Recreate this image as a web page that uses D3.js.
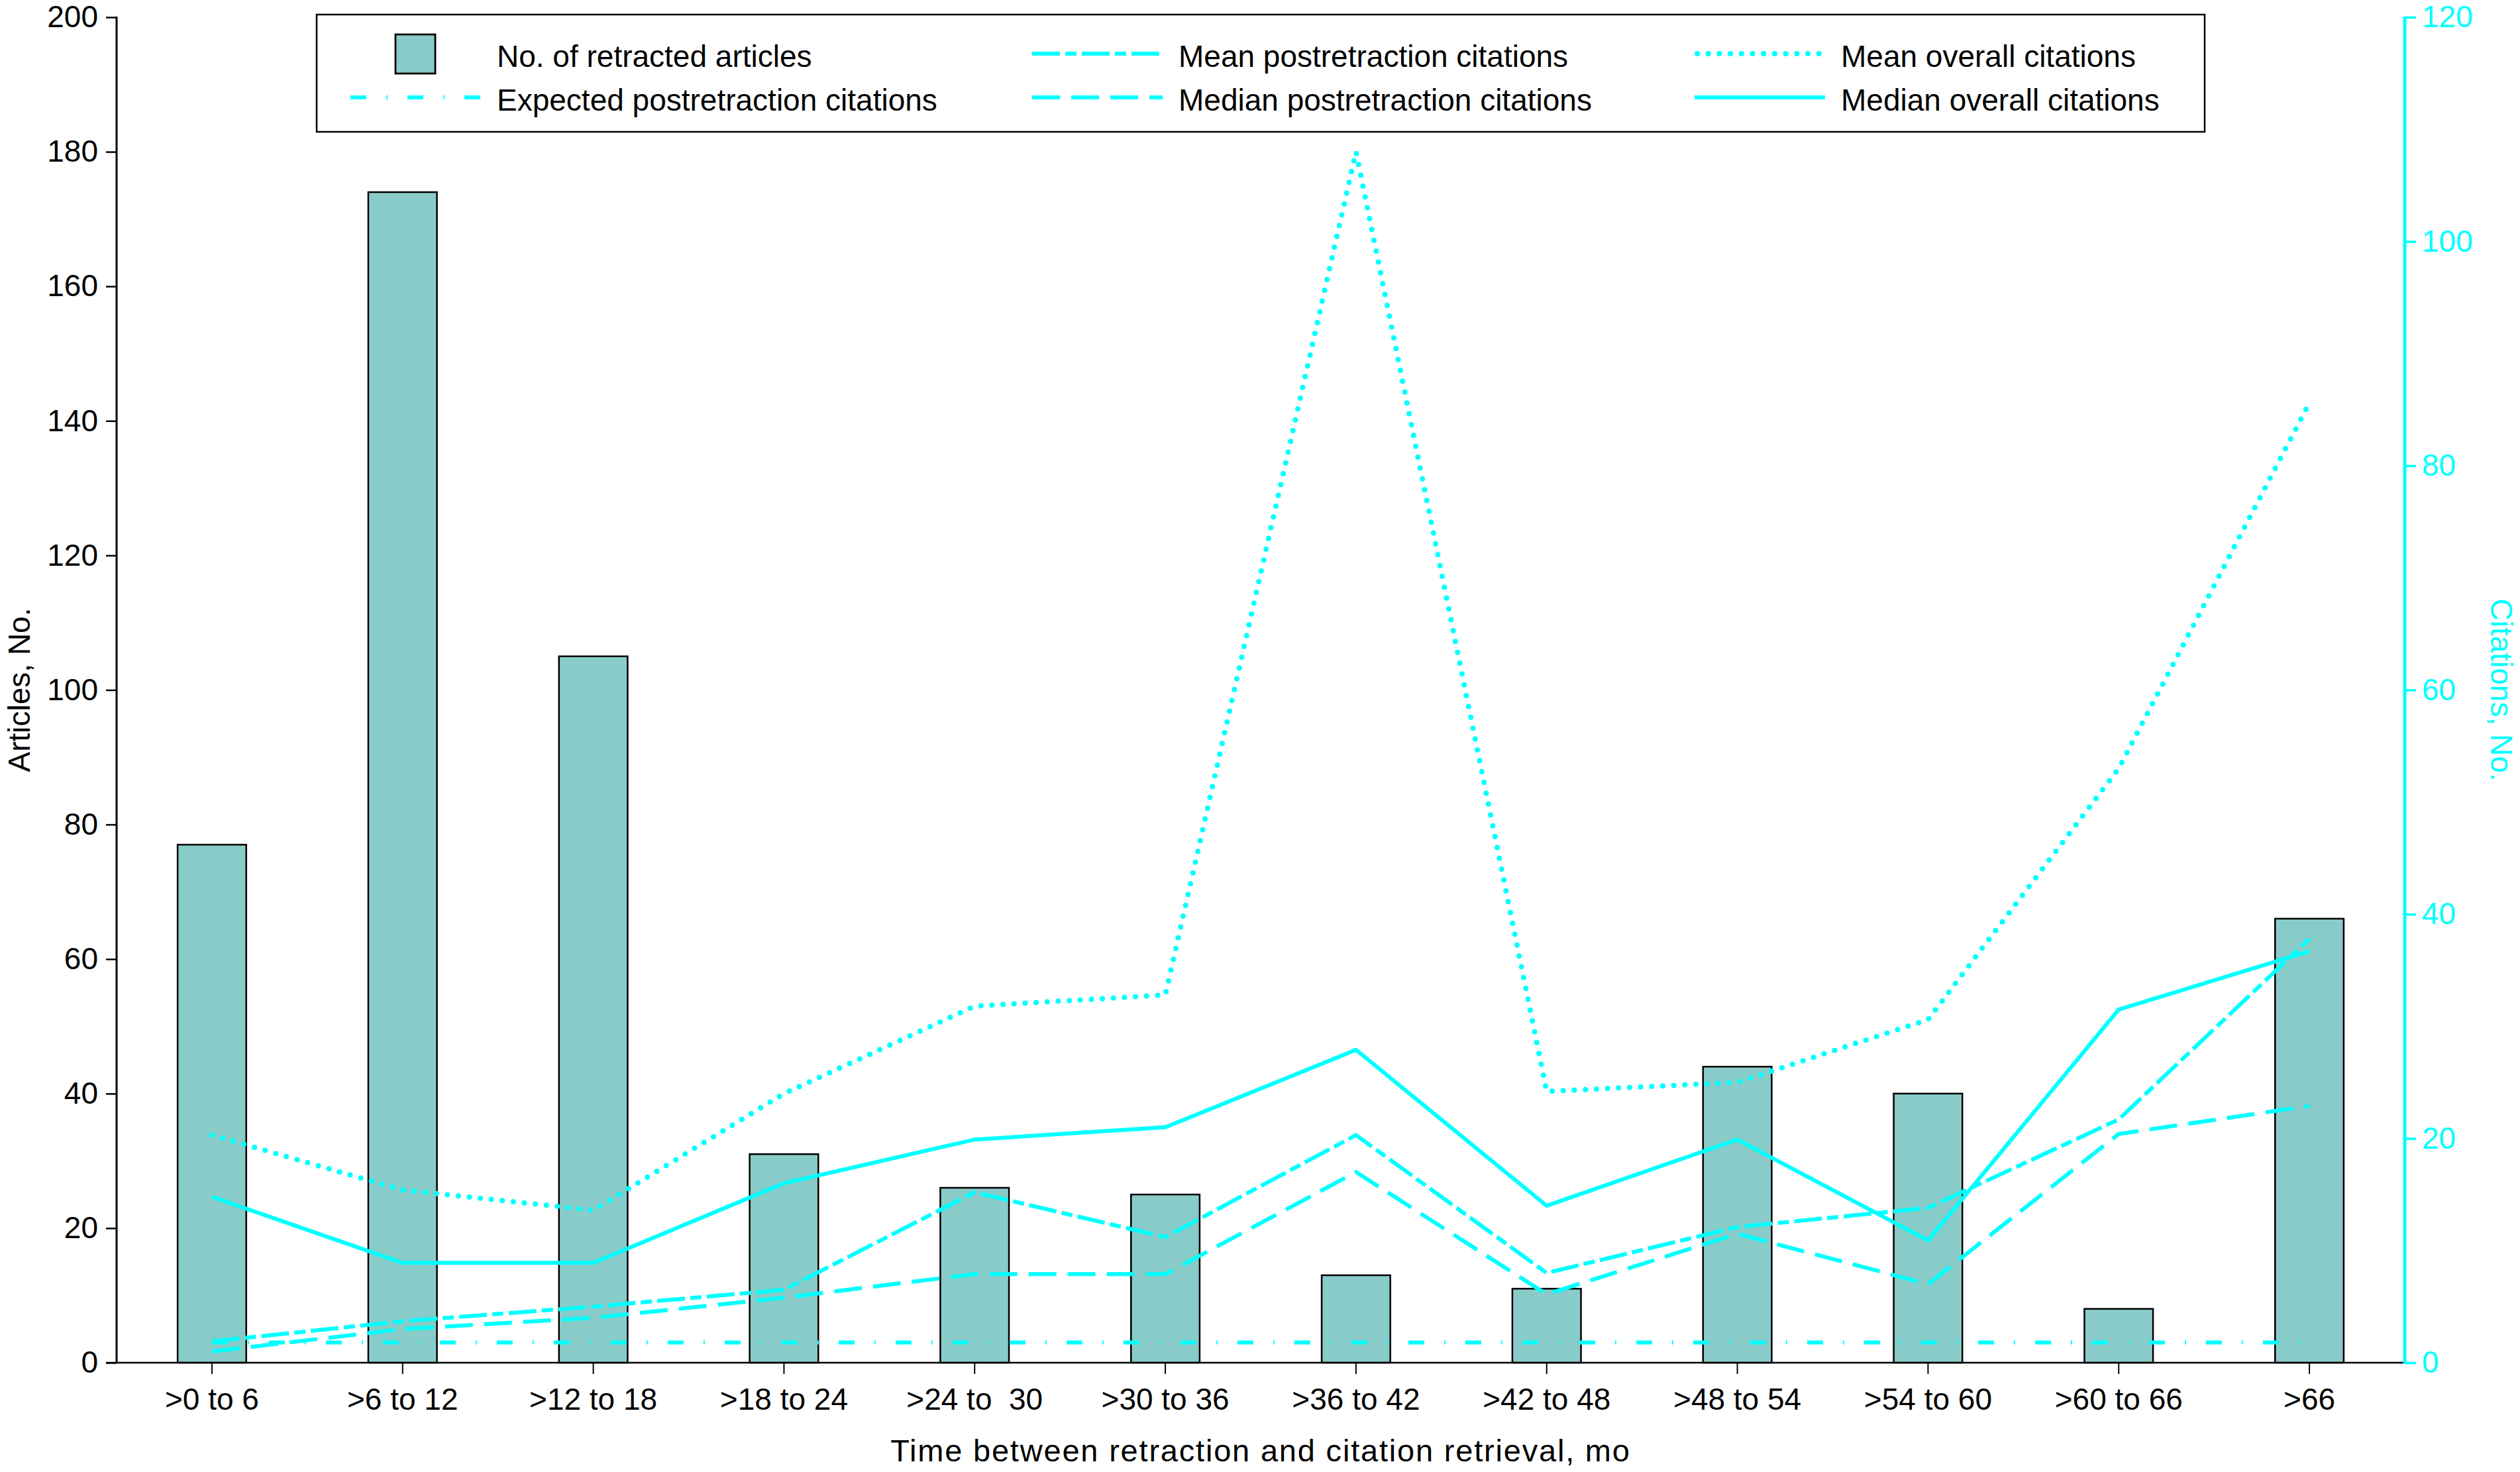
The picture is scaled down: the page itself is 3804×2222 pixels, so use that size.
<!DOCTYPE html>
<html>
<head>
<meta charset="utf-8">
<script src="https://cdn.jsdelivr.net/npm/d3@7"></script>
<style>
  html, body { margin: 0; padding: 0; background: #fff; }
  svg text { font-family: "Liberation Sans", Arial, sans-serif; }
</style>
</head>
<body>
<svg id="chart" width="3804" height="2222"></svg>
<script>
// ---------------- DATA ----------------
const categories = [">0 to 6", ">6 to 12", ">12 to 18", ">18 to 24", ">24 to  30", ">30 to 36",
                    ">36 to 42", ">42 to 48", ">48 to 54", ">54 to 60", ">60 to 66", ">66"];
const retractedArticles = [77, 174, 105, 31, 26, 25, 13, 11, 44, 40, 8, 66];
const expectedPost   = [1.8, 1.8, 1.8, 1.8, 1.8, 1.8, 1.8, 1.8, 1.8, 1.8, 1.8, 1.8];
const meanPost       = [1.9, 3.7, 5.0, 6.5, 15.2, 11.2, 20.3, 8.0, 12.1, 13.8, 21.7, 37.8];
const medianPost     = [1.0, 3.0, 4.0, 5.8, 7.9, 7.9, 17.0, 6.1, 11.5, 7.0, 20.4, 22.9];
const meanOverall    = [20.3, 15.4, 13.6, 24.0, 31.8, 32.8, 108.0, 24.2, 25.0, 30.6, 53.0, 85.6];
const medianOverall  = [14.8, 8.9, 8.9, 16.0, 19.9, 21.0, 27.9, 14.0, 19.9, 10.9, 31.5, 36.7];
const leftTicks  = [0, 20, 40, 60, 80, 100, 120, 140, 160, 180, 200];
const rightTicks = [0, 20, 40, 60, 80, 100, 120];
const legendLabels = ["No. of retracted articles", "Expected postretraction citations",
                      "Mean postretraction citations", "Median postretraction citations",
                      "Mean overall citations", "Median overall citations"];
const xTitle = "Time between retraction and citation retrieval, mo";
const yLeftTitle = "Articles, No.";
const yRightTitle = "Citations, No.";

// ---------------- SETUP ----------------
(function () {
const CYAN = "#00FFFF";
const BAR = "#89CBC8";
const FS = 46;
const svg = d3.select("#chart");

const pLeft = 176, pRight = 3630, pTop = 26, pBottom = 2057;
const x = d3.scaleBand().domain(categories).range([pLeft, pRight]).paddingInner(0).paddingOuter(0);
const yL = d3.scaleLinear().domain([0, 200]).range([pBottom, pTop]);
const yR = d3.scaleLinear().domain([0, 120]).range([pBottom, pTop]);
const barW = x.bandwidth() * 0.36;
const cx = d => x(d) + x.bandwidth() / 2;

// ---------------- BARS ----------------
svg.append("g").selectAll("rect")
  .data(categories.map((c, i) => ({c, v: retractedArticles[i]})))
  .join("rect")
  .attr("x", d => cx(d.c) - barW / 2)
  .attr("y", d => yL(d.v))
  .attr("width", barW)
  .attr("height", d => pBottom - yL(d.v))
  .attr("fill", BAR)
  .attr("stroke", "#000")
  .attr("stroke-width", 2.5);

// ---------------- LINES ----------------
const lineStyles = [
  {data: expectedPost,  dash: "24,30,2,30", w: 6, cap: "butt"},
  {data: meanPost,      dash: "42,8,17,8",  w: 6, cap: "butt"},
  {data: medianPost,    dash: "42,17",      w: 6, cap: "butt"},
  {data: meanOverall,   dash: "0,16.7",     w: 8, cap: "round"},
  {data: medianOverall, dash: null,         w: 6, cap: "butt"}
];
const lineGen = d3.line().x((d, i) => cx(categories[i])).y(d => yR(d));
lineStyles.forEach(s => {
  svg.append("path")
    .datum(s.data)
    .attr("d", lineGen)
    .attr("fill", "none")
    .attr("stroke", CYAN)
    .attr("stroke-width", s.w)
    .attr("stroke-linecap", s.cap)
    .attr("stroke-linejoin", "miter")
    .attr("stroke-dasharray", s.dash);
});

// ---------------- AXES ----------------
const gx = svg.append("g").attr("transform", `translate(0,${pBottom})`)
  .call(d3.axisBottom(x).tickSize(17).tickSizeOuter(0).tickPadding(21));
gx.select(".domain").remove();
gx.selectAll(".tick line").attr("stroke", "#000").attr("stroke-width", 2);
gx.selectAll(".tick text").attr("font-size", FS).attr("fill", "#000")
  .style("white-space", "pre");
svg.append("line").attr("x1", 160).attr("x2", pRight).attr("y1", pBottom).attr("y2", pBottom)
  .attr("stroke", "#000").attr("stroke-width", 2.5);

const gl = svg.append("g").attr("transform", `translate(${pLeft},0)`)
  .call(d3.axisLeft(yL).tickValues(leftTicks).tickSize(16).tickSizeOuter(0).tickPadding(12));
gl.select(".domain").remove();
gl.selectAll(".tick line").attr("stroke", "#000").attr("stroke-width", 2.5);
gl.selectAll(".tick text").attr("font-size", FS).attr("fill", "#000");
svg.append("line").attr("x1", pLeft).attr("x2", pLeft).attr("y1", pTop - 1).attr("y2", pBottom + 1)
  .attr("stroke", "#000").attr("stroke-width", 3);

const gr = svg.append("g").attr("transform", `translate(${pRight},0)`)
  .call(d3.axisRight(yR).tickValues(rightTicks).tickSize(17).tickSizeOuter(0).tickPadding(9));
gr.select(".domain").remove();
gr.selectAll(".tick line").attr("stroke", CYAN).attr("stroke-width", 3.5);
gr.selectAll(".tick text").attr("font-size", FS).attr("fill", CYAN);
svg.append("line").attr("x1", pRight).attr("x2", pRight).attr("y1", pTop - 1).attr("y2", pBottom + 1)
  .attr("stroke", CYAN).attr("stroke-width", 5);

svg.selectAll(".tick text").attr("font-family", null);

// Axis titles
svg.append("text")
  .attr("x", (pLeft + pRight) / 2).attr("y", 2206)
  .attr("text-anchor", "middle").attr("font-size", 47).attr("letter-spacing", 1.8)
  .attr("fill", "#000")
  .text(xTitle);
svg.append("text")
  .attr("transform", `translate(45,${(pTop + pBottom) / 2}) rotate(-90)`)
  .attr("text-anchor", "middle").attr("font-size", FS).attr("fill", "#000")
  .text(yLeftTitle);
svg.append("text")
  .attr("transform", `translate(3760,${(pTop + pBottom) / 2}) rotate(90)`)
  .attr("text-anchor", "middle").attr("font-size", FS).attr("fill", CYAN)
  .text(yRightTitle);

// ---------------- LEGEND ----------------
const lg = svg.append("g");
lg.append("rect").attr("x", 478).attr("y", 22).attr("width", 2850).attr("height", 177)
  .attr("fill", "#fff").attr("stroke", "#000").attr("stroke-width", 2.5);

const colSwatch = [529, 1558, 2558];
const colText = [750, 1779, 2779];
const rowLine = [81, 147];
const rowText = [101, 167];
const legendItems = [
  {col: 0, row: 0, bar: true},
  {col: 0, row: 1, style: 0},
  {col: 1, row: 0, style: 1},
  {col: 1, row: 1, style: 2},
  {col: 2, row: 0, style: 3},
  {col: 2, row: 1, style: 4}
];
legendItems.forEach((it, i) => {
  if (it.bar) {
    lg.append("rect").attr("x", 597).attr("y", 52).attr("width", 60).attr("height", 59)
      .attr("fill", BAR).attr("stroke", "#000").attr("stroke-width", 2.8);
  } else {
    const s = lineStyles[it.style];
    lg.append("line")
      .attr("x1", colSwatch[it.col] + (s.cap === "round" ? 4 : 0))
      .attr("x2", colSwatch[it.col] + 197)
      .attr("y1", rowLine[it.row]).attr("y2", rowLine[it.row])
      .attr("stroke", CYAN).attr("stroke-width", s.w)
      .attr("stroke-linecap", s.cap)
      .attr("stroke-dasharray", s.dash);
  }
  lg.append("text").attr("x", colText[it.col]).attr("y", rowText[it.row])
    .attr("font-size", FS).attr("fill", "#000").text(legendLabels[i]);
});
})();
</script>
</body>
</html>
